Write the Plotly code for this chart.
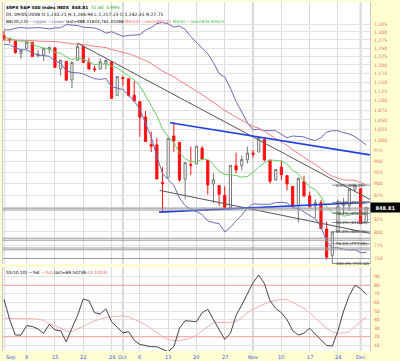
import math
import plotly.graph_objects as go

# ---------------- data ----------------
opens = [1287.83, 1276.61, 1271.80, 1233.21, 1249.50, 1267.98, 1227.50, 1229.04, 1245.88, 1250.92,
         1188.31, 1210.34, 1157.08, 1213.11, 1255.37, 1207.61, 1188.79, 1187.87, 1204.47, 1209.07,
         1113.78, 1164.17, 1160.64, 1115.16, 1097.56, 1057.60, 988.91, 988.42, 902.31, 912.75,
         1009.97, 994.60, 909.53, 942.29, 943.51, 980.40, 951.67, 899.08, 895.22, 874.28,
         848.92, 939.51, 939.38, 953.11, 968.67, 971.31, 1001.84, 952.40, 907.44, 936.75,
         917.15, 893.39, 853.13, 904.36, 873.23, 852.34, 859.03, 805.87, 755.84, 801.20,
         853.40, 852.90, 886.89, 888.61, 817.94]
highs = [1303.04, 1280.60, 1271.80, 1244.94, 1274.42, 1268.66, 1243.90, 1249.98, 1255.09, 1250.92,
         1214.84, 1210.34, 1211.14, 1265.12, 1255.37, 1221.15, 1197.41, 1220.03, 1215.77, 1209.07,
         1168.03, 1167.03, 1160.64, 1153.82, 1097.56, 1072.91, 1021.06, 1005.25, 936.36, 1006.93,
         1044.31, 994.60, 947.71, 984.64, 985.40, 985.44, 951.67, 922.83, 896.30, 893.78,
         940.51, 969.97, 963.23, 984.38, 975.57, 1007.51, 1001.84, 952.40, 931.46, 951.95,
         917.15, 893.39, 913.01, 916.88, 882.29, 865.90, 864.57, 820.52, 801.20, 865.60,
         868.94, 887.68, 896.25, 888.61, 850.54]
lows = [1272.20, 1265.59, 1232.83, 1217.23, 1247.12, 1224.51, 1221.60, 1211.54, 1233.81, 1192.70,
        1169.28, 1155.88, 1133.50, 1213.11, 1205.61, 1187.06, 1179.79, 1187.87, 1187.54, 1106.39,
        1113.78, 1140.77, 1111.43, 1098.14, 1007.97, 996.23, 970.97, 909.19, 839.80, 912.75,
        972.07, 903.99, 865.83, 918.74, 943.51, 952.47, 875.81, 858.44, 852.85, 845.75,
        845.27, 922.26, 928.50, 944.59, 958.82, 971.31, 949.86, 899.73, 906.90, 907.47,
        884.90, 850.48, 818.69, 869.88, 848.98, 826.84, 806.18, 747.78, 741.02, 801.20,
        834.99, 841.37, 881.21, 815.69, 817.94]
closes = [1277.58, 1274.98, 1236.83, 1242.31, 1267.79, 1224.51, 1232.04, 1249.05, 1251.70, 1192.70,
          1213.60, 1156.39, 1206.51, 1255.08, 1207.09, 1188.22, 1185.87, 1209.18, 1213.27, 1106.39,
          1166.36, 1161.06, 1114.28, 1099.23, 1056.89, 996.23, 984.94, 909.92, 899.22, 1003.35,
          998.01, 907.84, 946.43, 940.55, 985.40, 955.05, 896.78, 908.11, 876.77, 848.92,
          940.51, 930.09, 954.09, 968.75, 966.30, 1005.75, 952.77, 904.88, 930.99, 919.21,
          898.95, 852.30, 911.29, 873.29, 850.75, 859.12, 806.58, 752.44, 800.03, 851.81,
          857.39, 887.68, 896.24, 816.21, 848.81]

bb_upper = [1306.6, 1306.5, 1311.4, 1314.0, 1312.0, 1313.0, 1313.5, 1312.2, 1309.4, 1312.9,
            1313.2, 1323.5, 1322.2, 1320.0, 1315.1, 1314.5, 1312.4, 1306.7, 1295.8, 1300.9,
            1293.9, 1286.2, 1288.9, 1290.5, 1291.4, 1306.0, 1313.8, 1326.3, 1330.3, 1325.2,
            1315.5, 1318.5, 1307.9, 1285.1, 1266.4, 1249.5, 1233.2, 1206.5, 1174.9, 1165.3,
            1134.0, 1097.9, 1070.3, 1043.2, 1025.1, 1026.9, 1023.1, 1023.3, 1022.9, 1014.0,
            1005.3, 1009.8, 1008.0, 1007.7, 1001.8, 998.8, 1005.8, 1019.2, 1022.8, 1022.8,
            1018.0, 1014.7, 1008.4, 998.5, 988.32]
bb_lower = [1261.3, 1260.4, 1250.3, 1245.3, 1244.4, 1235.3, 1229.1, 1226.7, 1225.4, 1211.4,
            1204.5, 1183.2, 1177.7, 1177.6, 1174.1, 1166.9, 1160.3, 1158.8, 1161.0, 1138.2,
            1134.1, 1130.4, 1115.4, 1099.5, 1077.6, 1040.1, 1007.6, 961.2, 921.9, 908.2,
            896.2, 868.4, 853.0, 844.3, 840.8, 834.4, 821.8, 818.4, 816.4, 800.2,
            808.9, 821.9, 833.5, 847.5, 856.6, 855.8, 856.3, 855.7, 859.2, 859.7,
            858.5, 848.4, 846.7, 840.3, 832.7, 826.2, 810.2, 781.2, 769.8, 770.2,
            766.7, 765.7, 766.3, 760.9, 761.33]
ma34 = [1274.5, 1275.4, 1274.7, 1274.2, 1274.4, 1272.8, 1271.4, 1271.3, 1271.1, 1269.9,
        1268.4, 1264.6, 1262.8, 1262.7, 1261.5, 1258.6, 1255.6, 1253.9, 1251.5, 1245.6,
        1242.0, 1238.3, 1233.1, 1227.2, 1220.7, 1212.7, 1204.2, 1193.4, 1181.8, 1174.1,
        1166.1, 1155.1, 1144.6, 1134.6, 1126.0, 1116.6, 1106.6, 1096.7, 1085.2, 1074.2,
        1065.6, 1056.2, 1047.5, 1040.9, 1033.6, 1029.2, 1021.7, 1011.4, 1003.3, 995.4,
        987.0, 976.5, 967.6, 960.7, 951.4, 942.6, 933.5, 923.3, 915.8, 911.5,
        907.8, 907.1, 907.0, 901.5, 897.12]
ma8 = [1281.4, 1281.0, 1274.1, 1271.0, 1270.6, 1263.4, 1254.9, 1250.6, 1247.4, 1237.1,
       1234.2, 1223.5, 1215.8, 1219.6, 1216.5, 1208.9, 1200.7, 1202.7, 1202.7, 1196.5,
       1191.4, 1179.7, 1168.1, 1157.0, 1140.8, 1114.2, 1085.7, 1061.1, 1027.7, 1008.0,
       993.5, 969.6, 955.7, 948.8, 948.8, 954.5, 954.2, 942.3, 927.1, 919.8,
       919.0, 917.7, 913.8, 915.5, 924.2, 936.4, 945.9, 952.9, 951.7, 950.3,
       943.5, 928.9, 922.0, 905.5, 892.7, 887.0, 871.4, 850.6, 838.2, 838.2,
       831.4, 833.2, 838.9, 833.5, 836.84]

stoch_k = [63.7, 40, 22, 22, 33, 32, 29, 24, 34.5, 28,
           27, 14, 30, 45, 64, 62, 48, 46.5, 52.5, 37.6,
           31, 24.5, 26, 16, 11, 9.5, 8.4, 8.4, 5, 2.6,
           8.4, 30, 38.7, 38, 37.6, 48, 52, 40, 28, 17,
           24, 45, 57, 70, 83, 92, 82, 62, 53, 48,
           40, 27, 22, 24, 30, 23, 16, 10, 9, 27,
           50, 68, 80, 76, 69.54]
stoch_d = [41.5, 41.5, 41.5, 41.5, 41.5, 41, 40.5, 39, 35, 33,
           30, 26.5, 26, 29, 32, 35.5, 38.5, 40.5, 42.5, 43.5,
           44, 44.2, 43.5, 40, 37, 34, 29, 24, 20, 17,
           15.5, 15.4, 16.5, 18.2, 22, 27, 32, 36.5, 37, 36.5,
           37, 38, 42, 48, 52, 55, 58, 61, 62.5, 63.7,
           63.5, 60, 57, 53, 48, 42, 35, 30, 25.5, 24,
           24.5, 26, 32, 38, 43.1]

# trend lines (bar index, price)
trend_a_x = [13, 64.66]
trend_a_y = [1265.12, 865.7]
trend_b_x = [27.5, 64.66]
trend_b_y = [885.0, 797.5]
trend_c_x = [29.33, 64.66]
trend_c_y = [1042.9, 964.5]
trend_d_x = [27.4, 64.66]
trend_d_y = [839.5, 859.8]

fib_start = 58
fib_levels = [896.25, 859.62, 836.95, 818.64, 800.32, 777.65, 741.02]
fib_labels = ["0.0% (896.25)", "23.6% (859.62)", "38.2% (836.95)", "50.0% (818.64)",
              "61.8% (800.32)", "76.4% (777.65)", "100.0% (741.02)"]
hlines = [847.5, 843.8, 788.0, 784.2, 769.5, 766.2, 750.2]

price_ticks = list(range(750, 1326, 25))
osc_ticks = [10, 20, 30, 40, 50, 60, 70, 80, 90]
week_idx = [0, 4, 9, 14, 19, 21, 24, 29, 34, 39, 44, 49, 54, 59, 63]
week_lbl = ["Sep", "8", "15", "22", "29", "Oct", "6", "13", "20", "27", "Nov", "10", "17", "24", "Dec"]
month_idx = [21, 44, 63]

last_price = 848.81

# ---------------- figure ----------------
n = len(closes)
xs = list(range(n))
W, H = 400, 361
ML, MR, MT, MB = 3, 30, 2, 10
ph = H - MT - MB


def frac(py):
    return (H - MB - py) / ph


XR = [-0.18, 64.66]
fig = go.Figure()

fig.add_trace(go.Candlestick(
    x=xs, open=opens, high=highs, low=lows, close=closes,
    increasing=dict(line=dict(color="#777777", width=1), fillcolor="white"),
    decreasing=dict(line=dict(color="#ff1010", width=1), fillcolor="#ff1010"),
    whiskerwidth=0, xaxis="x", yaxis="y", hoverinfo="skip", showlegend=False))

for ys, col in [(bb_upper, "#6a6ab8"), (bb_lower, "#6a6ab8"), (ma34, "#f08080"), (ma8, "#66cc66")]:
    fig.add_trace(go.Scatter(x=xs, y=ys, mode="lines", line=dict(color=col, width=1),
                             xaxis="x", yaxis="y", hoverinfo="skip", showlegend=False))

for tx, ty, col, w in [(trend_a_x, trend_a_y, "#555555", 1), (trend_b_x, trend_b_y, "#555555", 1),
                       (trend_c_x, trend_c_y, "#1f3fe0", 1.6), (trend_d_x, trend_d_y, "#1f3fe0", 1.6)]:
    fig.add_trace(go.Scatter(x=tx, y=ty, mode="lines", line=dict(color=col, width=w),
                             xaxis="x", yaxis="y", hoverinfo="skip", showlegend=False))

for lv in hlines:
    fig.add_trace(go.Scatter(x=XR, y=[lv, lv], mode="lines", line=dict(color="#9a9a9a", width=1),
                             xaxis="x", yaxis="y", hoverinfo="skip", showlegend=False))

for lv, lb in zip(fib_levels, fib_labels):
    fig.add_trace(go.Scatter(x=[fib_start, XR[1]], y=[lv, lv], mode="lines",
                             line=dict(color="#8a8a8a", width=1),
                             xaxis="x", yaxis="y", hoverinfo="skip", showlegend=False))
    fig.add_annotation(x=fib_start + 0.3, y=math.log10(lv), xref="x", yref="y", text=lb,
                       showarrow=False, xanchor="left", yanchor="middle", yshift=0,
                       font=dict(size=4, color="#333333", family="DejaVu Sans"))

# oscillator
fig.add_trace(go.Scatter(x=XR, y=[80, 80], mode="lines", line=dict(color="#f2a0a0", width=1),
                         xaxis="x2", yaxis="y2", hoverinfo="skip", showlegend=False))
fig.add_trace(go.Scatter(x=XR, y=[20, 20], mode="lines", line=dict(color="#f2a0a0", width=1),
                         xaxis="x2", yaxis="y2", hoverinfo="skip", showlegend=False))
fig.add_trace(go.Scatter(x=xs, y=stoch_d, mode="lines", line=dict(color="#f6b0b0", width=1),
                         xaxis="x2", yaxis="y2", hoverinfo="skip", showlegend=False))
fig.add_trace(go.Scatter(x=xs, y=stoch_k, mode="lines", line=dict(color="#444444", width=1),
                         xaxis="x2", yaxis="y2", hoverinfo="skip", showlegend=False))

# month separators
shapes = []
for mi in month_idx:
    for xa, ya in [("x", "y"), ("x2", "y2")]:
        shapes.append(dict(type="line", xref=xa, yref=ya + " domain", x0=mi, x1=mi, y0=0, y1=1,
                           line=dict(color="#d4d4d4", width=2), layer="below"))

tick_font = dict(size=4.6, color="#ee7050", family="DejaVu Sans")
# the 850 label is covered by the last-price box in the original
price_text = ["" if v == 850 else f"{v:,}" for v in price_ticks]
fig.update_layout(
    width=W, height=H, margin=dict(l=ML, r=MR, t=MT, b=MB),
    paper_bgcolor="#ffffd2", plot_bgcolor="white",
    showlegend=False, shapes=shapes, boxgap=0.45,
    xaxis=dict(domain=[0, 1], anchor="y", range=XR, tickvals=week_idx, showticklabels=False,
               showgrid=True, gridcolor="#dcdcdc", gridwidth=1, zeroline=False,
               rangeslider=dict(visible=False), fixedrange=True),
    xaxis2=dict(domain=[0, 1], anchor="y2", range=XR, matches="x", tickvals=week_idx,
                showticklabels=False, showgrid=True, gridcolor="#dcdcdc", zeroline=False, ticks=""),
    yaxis=dict(domain=[frac(264), 1], anchor="x", type="log",
               range=[math.log10(740.2), math.log10(1397.9)], side="right",
               tickvals=price_ticks, ticktext=price_text,
               tickfont=tick_font, showgrid=True, gridcolor="#e2e2e2", zeroline=False, ticks="",
               ticklabelstandoff=2, showline=True, linecolor="#c8c8c8", mirror=True),
    yaxis2=dict(domain=[0, frac(267)], anchor="x2", range=[3.4, 101.3], side="right",
                tickvals=osc_ticks, tickfont=tick_font, showgrid=True, gridcolor="#e2e2e2",
                zeroline=False, ticks="", ticklabelstandoff=2, showline=True,
                linecolor="#c8c8c8", mirror=True),
)

# x tick labels
for wi, wl in zip(week_idx, week_lbl):
    fig.add_annotation(x=wi, xref="x2", y=0, yref="paper", text=wl, showarrow=False,
                       xanchor="left" if wi == 0 else "center", yanchor="top", yshift=-1,
                       font=dict(size=5, color="#3355dd", family="DejaVu Sans"))

fig.add_annotation(xref="paper", yref="paper", x=0.0, y=frac(2.5), xanchor="left", yanchor="top",
                   showarrow=False, font=dict(size=4.3, color="#000000", family="DejaVu Sans"), xshift=1,
                   text="<b>$SPX S&P 500 Index INDX</b>  <b>848.81</b>  "
                        "<span style='color:#22aa22'>32.60  3.99%</span>")
fig.add_annotation(xref="paper", yref="paper", x=0.0, y=frac(10), xanchor="left", yanchor="top",
                   showarrow=False, font=dict(size=4.5, color="#000000", family="DejaVu Sans"), xshift=1,
                   text="Dt: 09/05/2008 O:1,233.21 H:1,244.94 L:1,217.23 C:1,242.31 R:27.71")
fig.add_annotation(xref="paper", yref="paper", x=0.0, y=frac(16.5), xanchor="left", yanchor="top",
                   showarrow=False, font=dict(size=4.2, color="#000000", family="DejaVu Sans"), xshift=1,
                   text="BB(20,2.0) <span style='color:#6a6ab8'>\u2014Upper \u2014Lower</span> "
                        "last=988.31634,761.33266 <span style='color:#f06060'>MA(34) \u2014last=897.12</span> "
                        "<span style='color:#44bb44'>MA(8) \u2014last=836.83625</span>")
fig.add_annotation(xref="paper", yref="paper", x=0.0, y=frac(267.5), xanchor="left", yanchor="top",
                   showarrow=False, font=dict(size=4.3, color="#000000", family="DejaVu Sans"), xshift=1,
                   text="SS(10,10) \u2014%K <span style='color:#f06060'>\u2014%D</span> "
                        "last=69.54259,<span style='color:#f06060'>43.10035</span>")
fig.add_annotation(xref="paper", yref="y", x=1.0, y=math.log10(last_price), xanchor="left",
                   yanchor="middle", showarrow=False, text=f"<b>{last_price:.2f}</b>",
                   font=dict(size=5, color="white", family="DejaVu Sans"), bgcolor="black",
                   borderpad=1.5, xshift=0, width=26)

fig.write_html("out.html", config={"displayModeBar": False})
